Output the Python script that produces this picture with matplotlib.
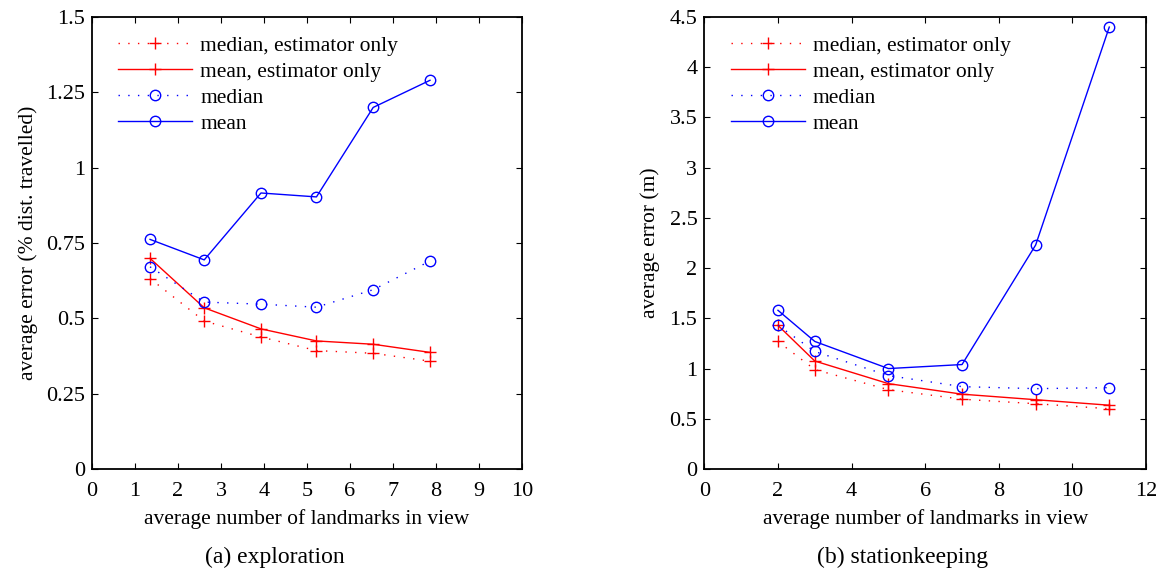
import matplotlib
matplotlib.use("Agg")
from matplotlib import pyplot as plt

plt.rcParams['font.family'] = ['Liberation Serif', 'DejaVu Serif']
plt.rcParams['font.size'] = 15.5

# (a) exploration
x_expl = [1.35, 2.61, 3.93, 5.22, 6.54, 7.86]
expl_med_est = [0.632, 0.491, 0.438, 0.393, 0.384, 0.358]
expl_mean_est = [0.699, 0.535, 0.465, 0.425, 0.414, 0.387]
expl_med = [0.671, 0.554, 0.547, 0.537, 0.595, 0.690]
expl_mean = [0.762, 0.694, 0.916, 0.903, 1.20, 1.29]

# (b) stationkeeping
x_stat = [2, 3, 5, 7, 9, 11]
stat_med_est = [1.27, 0.99, 0.79, 0.695, 0.65, 0.60]
stat_mean_est = [1.43, 1.075, 0.85, 0.745, 0.69, 0.635]
stat_med = [1.43, 1.17, 0.93, 0.82, 0.80, 0.81]
stat_mean = [1.58, 1.27, 1.00, 1.04, 2.23, 4.40]

labels = ["median, estimator only", "mean, estimator only", "median", "mean"]
dot = (0, (1, 6))


def draw(ax, x, med_est, mean_est, med, mean):
    ax.plot(x, med_est, color='red', linestyle=dot, lw=1, marker='+', ms=8, mew=1, label=labels[0])
    ax.plot(x, mean_est, color='red', linestyle='-', lw=1, marker='+', ms=8, mew=1, label=labels[1])
    ax.plot(x, med, color='blue', linestyle=dot, lw=1, marker='o', ms=7.5, mfc='none', mew=1, label=labels[2])
    ax.plot(x, mean, color='blue', linestyle='-', lw=1, marker='o', ms=7.5, mfc='none', mew=1, label=labels[3])
    ax.tick_params(direction='in', top=True, right=True, length=4, labelsize=16)
    ax.tick_params(axis='x', pad=9)
    ax.tick_params(axis='y', pad=5)
    for s in ax.spines.values():
        s.set_linewidth(1.3)
    ax.legend(loc='upper left', bbox_to_anchor=(0.035, 0.983), frameon=False,
              handlelength=3.45, handletextpad=0.37, labelspacing=0.28, borderpad=0)
    ax.set_xlabel("average number of landmarks in view", labelpad=6)


fig = plt.figure(figsize=(11.6, 5.73), dpi=100)

ax1 = fig.add_axes([0.0793, 0.1815, 0.3707, 0.7888])
draw(ax1, x_expl, expl_med_est, expl_mean_est, expl_med, expl_mean)
ax1.set_xlim(0, 10)
ax1.set_ylim(0, 1.5)
ax1.set_xticks(range(0, 11))
ax1.set_yticks([0, 0.25, 0.5, 0.75, 1, 1.25, 1.5])
ax1.set_yticklabels(['0', '0.25', '0.5', '0.75', '1', '1.25', '1.5'])
ax1.set_ylabel("average error (% dist. travelled)", labelpad=6)

ax2 = fig.add_axes([0.6072, 0.1815, 0.3808, 0.7888])
draw(ax2, x_stat, stat_med_est, stat_mean_est, stat_med, stat_mean)
ax2.set_xlim(0, 12)
ax2.set_ylim(0, 4.5)
ax2.set_xticks(range(0, 13, 2))
ax2.set_yticks([0, 0.5, 1, 1.5, 2, 2.5, 3, 3.5, 4, 4.5])
ax2.set_yticklabels(['0', '0.5', '1', '1.5', '2', '2.5', '3', '3.5', '4', '4.5'])
ax2.set_ylabel("average error (m)", labelpad=7)

fig.text(0.2371, 0.018, "(a) exploration", ha='center', va='baseline', fontsize=17)
fig.text(0.7780, 0.018, "(b) stationkeeping", ha='center', va='baseline', fontsize=17)

plt.savefig("out.png")
